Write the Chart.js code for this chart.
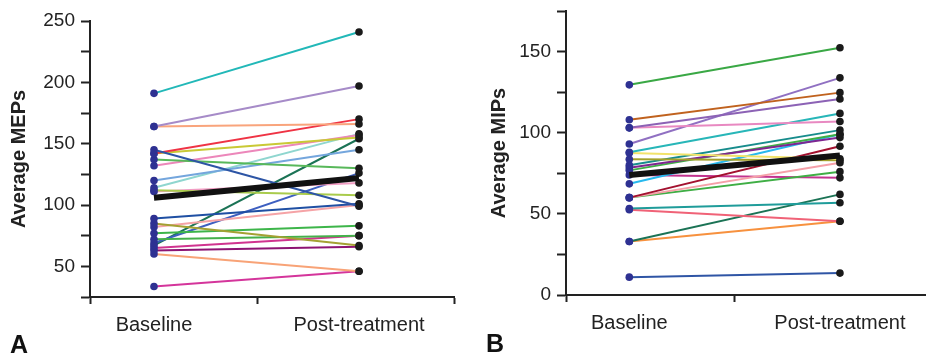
<!DOCTYPE html>
<html><head><meta charset="utf-8">
<script src="https://cdn.jsdelivr.net/npm/chart.js@4"></script>
<style>
html,body{margin:0;padding:0;background:#fff;width:929px;height:354px;overflow:hidden;}
.wrap{position:absolute;top:0;}
.lab{position:absolute;font:bold 25px "Liberation Sans",Arial,sans-serif;color:#111;line-height:25px;}
</style></head><body>
<div class="wrap" style="left:0;width:470px;height:354px"><canvas id="chartA" width="470" height="354"></canvas></div>
<div class="wrap" style="left:470px;width:459px;height:354px"><canvas id="chartB" width="459" height="354"></canvas></div>
<div class="lab" style="left:10px;top:332px">A</div>
<div class="lab" style="left:486px;top:331px">B</div>
<script>
// ---- data ----
const categories = ['Baseline', 'Post-treatment'];

const mepBaseline = [191, 164, 164, 145, 142, 142, 137, 132, 120, 114, 112, 111, 89, 85, 82, 77, 72, 69, 67, 65, 63, 60, 33.5];
const mepPost     = [241, 197, 166, 99, 170, 155, 130, 157, 145, 158, 108, 118, 101, 67, 100, 83, 75, 126, 154, 75, 66, 46, 46];
const mepMean     = [106, 122];
const mepTickLabels = [50, 100, 150, 200, 250];

const mipBaseline = [129.5, 108, 103, 103, 93, 88, 87.5, 83.6, 80, 78.4, 76.8, 68.5, 60, 60, 60, 74, 53.3, 52.5, 33, 33, 11];
const mipPost     = [152.4, 124.7, 120.8, 106.9, 133.8, 111.9, 84, 83, 101.6, 97, 99, 99, 91.7, 81.5, 76, 72.2, 56.8, 45.4, 62, 45.4, 13.5];
const mipMean     = [74, 86];
const mipTickLabels = [0, 50, 100, 150];

// ---- styles ----
const mepColors = ['#22b8b8','#a68bc8','#f9a47c','#2d55a5','#ef3344','#c9c935','#58b85a','#ec87ba','#74a6dd','#8fd6cf','#a9cb4c','#f29ec4','#1f4fa3','#a4a133','#f5a3a6','#3db54a','#44b04a','#3d5fc0','#1b7355','#d0338f','#8d1473','#f8a377','#d4359b'];
const mipColors = ['#3aa845','#c0621e','#8c62b5','#e889c1','#9070c2','#27b6b8','#f2e36a','#a3a12a','#178c8c','#7e2691','#3fae45','#27b9ee','#a3112f','#f5a0a8','#3fae45','#c2338f','#1f9c9a','#f06277','#1b7355','#f7913e','#2f55a5'];

const FONT = '"Liberation Sans", Arial, Helvetica, sans-serif';
const AX = '#222';
const BASE_PT = '#2e3192';
const POST_PT = '#1a1a1a';

function makeChart(id, base, post, colors, mean, tickLabels, title, L) {
  const datasets = base.map((b, i) => ({
    data: [{x: L.base, y: b}, {x: L.post, y: post[i]}],
    borderColor: colors[i], borderWidth: 2,
    pointBackgroundColor: [BASE_PT, POST_PT], pointBorderWidth: 0, pointRadius: 3.8,
    order: 1, clip: false
  }));
  datasets.unshift({
    data: [{x: L.base, y: mean[0]}, {x: L.post, y: mean[1]}],
    borderColor: '#111', borderWidth: 6, pointRadius: 0, order: 0, clip: false
  });
  return new Chart(document.getElementById(id), {
    type: 'line',
    data: {datasets},
    options: {
      responsive: false, animation: false,
      layout: {padding: {top: L.padTop, right: L.padRight, left: 0, bottom: 0}},
      plugins: {legend: {display: false}, tooltip: {enabled: false}},
      scales: {
        x: {
          type: 'linear', min: 0, max: L.xMax,
          afterBuildTicks: s => { s.ticks = L.xTicks.map(v => ({value: v})); },
          afterFit: s => { s.height = L.xHeight; },
          ticks: {
            autoSkip: false, maxRotation: 0, padding: 9, color: AX,
            font: {family: FONT, size: 20},
            callback: v => v === L.base ? categories[0] : (v === L.post ? categories[1] : '')
          },
          grid: {
            drawOnChartArea: false, tickLength: 7, tickWidth: 2,
            tickColor: c => (c.tick && (c.tick.value === L.base || c.tick.value === L.post)) ? 'rgba(0,0,0,0)' : AX
          },
          border: {display: true, color: AX, width: 2}
        },
        y: {
          type: 'linear', min: L.yMin, max: L.yMax,
          afterFit: s => { s.width = L.yWidth; },
          ticks: {
            stepSize: 25, autoSkip: false, padding: 6, color: AX,
            font: c => ({family: FONT, size: (c.tick && tickLabels.includes(c.tick.value)) ? 19 : 2}),
            callback: v => tickLabels.includes(v) ? String(v) : ''
          },
          grid: {drawOnChartArea: false, tickLength: 9, tickWidth: 2, tickColor: AX},
          border: {display: true, color: AX, width: 2},
          title: {display: true, text: title, color: AX,
                  font: {family: FONT, size: 20, weight: 'bold'},
                  padding: {top: L.titlePad, bottom: 0}}
        }
      }
    }
  });
}

makeChart('chartA', mepBaseline, mepPost, mepColors, mepMean, mepTickLabels, 'Average MEPs', {
  base: 64, post: 269, xMax: 364, xTicks: [0, 64, 167, 269, 364],
  yMin: 25, yMax: 250, yWidth: 90, xHeight: 57, padTop: 21, padRight: 16, titlePad: 7
});
makeChart('chartB', mipBaseline, mipPost, mipColors, mipMean, mipTickLabels, 'Average MIPs', {
  base: 64, post: 277, xMax: 363, xTicks: [0, 64, 170.7, 277],
  yMin: 0, yMax: 175, yWidth: 96, xHeight: 59, padTop: 11, padRight: 0, titlePad: 17
});
</script>
</body></html>
